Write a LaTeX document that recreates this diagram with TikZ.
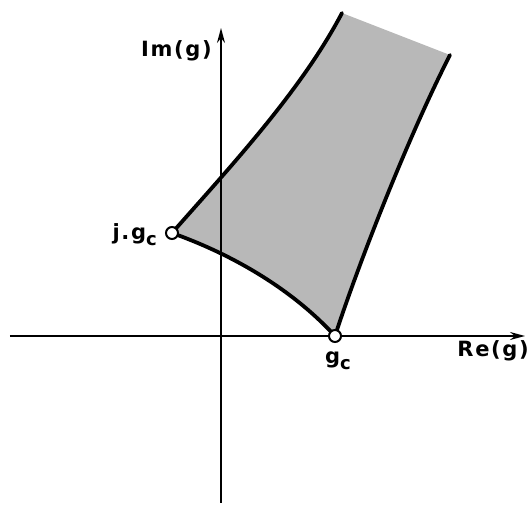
\documentclass[tikz,border=0pt]{standalone}
\usepackage{fontspec}
\setsansfont{DejaVu Sans}
\usetikzlibrary{arrows.meta}
\newcommand{\subc}{\raisebox{-0.45ex}{\fontsize{18}{18}\selectfont c}}
\begin{document}
\begin{tikzpicture}[x=10pt,y=10pt,>={Stealth[length=15pt,width=8pt]},
  lbl/.style={inner sep=0pt,font=\fontsize{21}{21}\selectfont\sffamily\bfseries\addfontfeature{LetterSpace=8}},
  pt/.style={circle,draw,fill=white,line width=2pt,inner sep=0pt,minimum size=12pt},
  edge/.style={line width=3.8pt,line cap=round}]
\useasboundingbox (-22.1,-16.9) rectangle (30.9,33.6);
\coordinate (xl) at (-21.1,0);
\coordinate (xr) at (30.4,0);
\coordinate (yb) at (0,-16.7);
\coordinate (yt) at (0,30.8);
\coordinate (jgc) at (-4.9,10.3);
\coordinate (gc) at (11.4,0);
\coordinate (tl) at (12.1,32.3);
\coordinate (tr) at (22.9,28.1);
\fill[black!28] (jgc) .. controls (1,17) and (8,24.5) .. (tl) -- (tr)
  .. controls (18.5,19.5) and (13.5,6.5) .. (gc)
  .. controls (7,4.8) and (1,8.2) .. (jgc) -- cycle;
\draw[line width=1.7pt,->] (xl)--(xr);
\draw[line width=1.7pt,->] (yb)--(yt);
\draw[edge] (jgc) .. controls (1,17) and (8,24.5) .. (tl);
\draw[edge] (gc) .. controls (13.5,6.5) and (18.5,19.5) .. (tr);
\draw[edge] (jgc) .. controls (1,8.2) and (7,4.8) .. (gc);
\node[pt] (pjgc) at (jgc) {};
\node[pt] (pgc) at (gc) {};
\node[lbl,anchor=base east] (im) at (-0.9,27.9) {Im(g)};
\node[lbl,anchor=base east] (re) at (30.8,-2.1) {Re(g)};
\node[lbl,anchor=base west] (lgc) at (10.4,-2.8) {g\subc};
\node[lbl,anchor=base east] (ljgc) at (-6.4,9.6) {j.g\subc};
\end{tikzpicture}
\end{document}
